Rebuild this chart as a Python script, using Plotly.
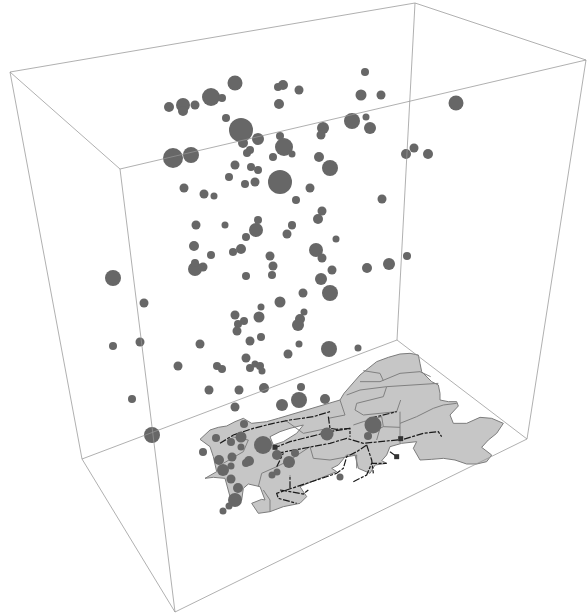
import plotly.graph_objects as go

# Box edges (projected picture coordinates)
A = (10, 72); B = (120, 169); C = (586, 60); D = (415, 3)
E = (82, 459); F = (175, 612); G = (527, 439); H = (397, 340)
box_edges = [(A, B), (B, C), (C, D), (D, A), (E, F), (F, G), (G, H), (H, E),
             (A, E), (B, F), (C, G), (D, H)]

# Spheres: projected position and diameter
sphere_x = [235,283,278,299,279,169,183,183,195,211,222,226,241,243,258,250,247,280,284,292,273,323,321,319,330,173,191,235,251,258,229,245,255,280,310,184,204,214,296,322,318,
            365,361,381,352,366,370,456,414,406,428,382,292,
            196,225,258,256,246,292,287,336,194,211,233,241,270,273,272,246,316,322,332,321,330,303,280,195,203,195,113,144,261,259,235,244,238,237,304,300,298,250,261,299,288,329,200,140,113,178,217,222,246,250,255,260,262,
            358,209,239,264,301,235,282,299,325,244,216,241,231,241,263,203,219,232,231,223,249,246,277,295,289,272,277,231,238,235,229,223,327,373,368,340,
            152,132,367,389,407]
sphere_y = [83,85,87,90,104,107,105,111,105,97,98,118,130,143,139,150,153,136,147,154,157,128,135,157,168,158,155,165,167,170,177,184,182,182,188,188,194,196,200,211,219,
            72,95,95,121,117,128,103,148,154,154,199,226,
            225,225,220,230,237,225,234,239,246,255,252,249,256,266,275,276,250,258,270,279,293,293,302,269,267,263,278,303,307,317,315,321,324,331,312,319,325,341,337,344,354,349,344,342,346,366,366,369,358,368,364,366,371,
            348,390,390,388,387,407,405,400,399,424,438,437,442,447,445,452,460,457,466,470,461,463,455,453,462,475,472,479,488,500,506,511,434,425,436,477,
            435,399,268,264,256]
sphere_d = [15,10,8,9,10,10,14,10,9,18,8,8,24,10,12,8,8,8,18,7,8,12,9,10,16,20,16,9,8,8,8,8,9,24,9,9,9,7,8,9,10,
            8,11,9,16,7,12,15,9,10,10,9,7,
            9,7,8,14,8,8,9,7,10,8,8,10,9,9,8,8,14,9,9,12,16,9,11,14,9,8,16,9,7,11,9,8,8,9,7,10,12,9,8,7,9,16,9,9,8,9,8,8,9,8,7,8,7,
            7,9,9,10,8,9,12,16,10,8,8,11,8,7,18,8,10,9,7,12,10,8,10,8,12,7,7,9,10,14,7,7,13,17,8,7,
            16,8,10,12,8]

ORIGIN_X, ORIGIN_Y, ZOOM = 190, 340, 3
map_outline = [(30,298),(45,285),(60,270),(85,262),(110,258),(135,245),(160,235),(185,250),(230,245),(265,235),(300,225),(340,212),(380,200),(420,190),(450,180),(462,160),(475,145),(495,122),(510,105),(535,85),(560,65),(595,52),(630,42),(660,40),(685,45),(690,70),(695,95),(725,125),(745,135),(750,160),(750,180),(775,185),(800,185),(805,198),(780,225),(790,250),(830,250),(870,232),(905,235),(940,250),(920,280),(895,300),(875,322),(905,345),(890,365),(860,372),(830,372),(795,360),(760,355),(725,358),(690,360),(670,325),(680,305),(635,310),(600,320),(590,345),(575,362),(590,370),(555,375),(540,400),(505,385),(495,345),(470,345),(445,375),(425,385),(440,395),(400,410),(365,425),(330,440),(350,470),(330,490),(280,500),(240,515),(205,520),(185,490),(215,478),(225,480),(210,440),(175,432),(160,445),(155,480),(120,470),(105,415),(70,412),(45,415),(80,395),(70,350),(60,320),(30,298)]
lake_outline = [(240,290),(270,275),(300,265),(340,255),(320,280),(280,305),(250,315),(240,290)]
borders = [
    [(510,125),(570,125),(630,100),(690,95),(722,110)],
    [(520,92),(570,100),(580,122)],
    [(470,165),(510,150),(590,140),(680,135),(745,130)],
    [(590,140),(580,170),(500,190),(495,210),(520,225),(620,215),(632,180)],
    [(630,215),(630,260),(630,310)],
    [(630,250),(680,230),(730,205),(760,195),(800,190)],
    [(450,180),(465,225),(415,235)],
    [(575,230),(580,260),(630,262)],
    [(360,320),(370,355),(420,360),(500,345)],
    [(500,345),(500,385)],
    [(490,255),(520,245),(575,230)],
    [(100,370),(160,335),(175,300),(125,290)],
    [(205,440),(215,400),(260,380),(300,360),(360,320)],
    [(240,515),(240,480),(220,450)],
    [(560,300),(570,265),(580,260)],
    [(285,240),(340,280),(415,265)],
]
rivers = [
    [(90,310),(130,285),(190,265),(250,250),(300,240),(370,230),(420,215)],
    [(250,325),(300,305),(380,285),(420,275),(480,265)],
    [(260,340),(340,325),(420,310),(470,295),(520,310),(570,305),(640,298),(700,280),(745,275),(755,290)],
    [(415,230),(420,265),(440,268),(480,265),(480,290)],
    [(530,315),(545,360),(550,400)],
    [(530,315),(500,335),(470,350),(460,385),(440,400),(380,420),(300,445),(260,460),(265,475),(320,490)],
    [(300,445),(300,405)],
    [(270,450),(340,462),(355,450)],
    [(490,425),(530,405),(545,370),(590,370)],
    [(260,380),(280,340)],
    [(540,235),(600,220),(620,215)],
    [(600,335),(620,350)],
]
dark_spots = [(620, 350), (632, 296), (255, 322)]


def to_xy(points):
    return ([ORIGIN_X + p[0] / ZOOM for p in points], [ORIGIN_Y + p[1] / ZOOM for p in points])


fig = go.Figure()
ox, oy = to_xy(map_outline)
fig.add_trace(go.Scatter(x=ox, y=oy, mode="lines", fill="toself", fillcolor="#c6c6c6",
                         line=dict(color="#7c7c7c", width=1), hoverinfo="skip"))
lx, ly = to_xy(lake_outline)
fig.add_trace(go.Scatter(x=lx, y=ly, mode="lines", fill="toself", fillcolor="#ffffff",
                         line=dict(color="#7c7c7c", width=1), hoverinfo="skip"))
for b in borders:
    x, y = to_xy(b)
    fig.add_trace(go.Scatter(x=x, y=y, mode="lines", line=dict(color="#808080", width=1), hoverinfo="skip"))
for r in rivers:
    x, y = to_xy(r)
    fig.add_trace(go.Scatter(x=x, y=y, mode="lines",
                             line=dict(color="#1a1a1a", width=1.2, dash="7px,1.5px,3px,1.5px"), hoverinfo="skip"))
sx, sy = to_xy(dark_spots)
fig.add_trace(go.Scatter(x=sx, y=sy, mode="markers",
                         marker=dict(size=5, symbol="square", color="#333333", opacity=1, line=dict(width=0)),
                         hoverinfo="skip"))
fig.add_trace(go.Scatter(x=sphere_x, y=sphere_y, mode="markers",
                         marker=dict(size=sphere_d, sizemode="diameter", color="#676767", opacity=1, line=dict(width=0)),
                         hoverinfo="skip"))
for p, q in box_edges:
    fig.add_trace(go.Scatter(x=[p[0], q[0]], y=[p[1], q[1]], mode="lines",
                             line=dict(color="rgba(150,150,150,0.75)", width=1), hoverinfo="skip"))

fig.update_layout(
    width=587, height=614, margin=dict(l=0, r=0, t=0, b=0), showlegend=False,
    paper_bgcolor="white", plot_bgcolor="white",
    xaxis=dict(range=[0, 587], visible=False, fixedrange=True),
    yaxis=dict(range=[614, 0], visible=False, fixedrange=True),
)
fig.write_html("out.html", config=dict(displayModeBar=False),
               post_script="document.body.style.margin='0';document.body.style.overflow='hidden';")
